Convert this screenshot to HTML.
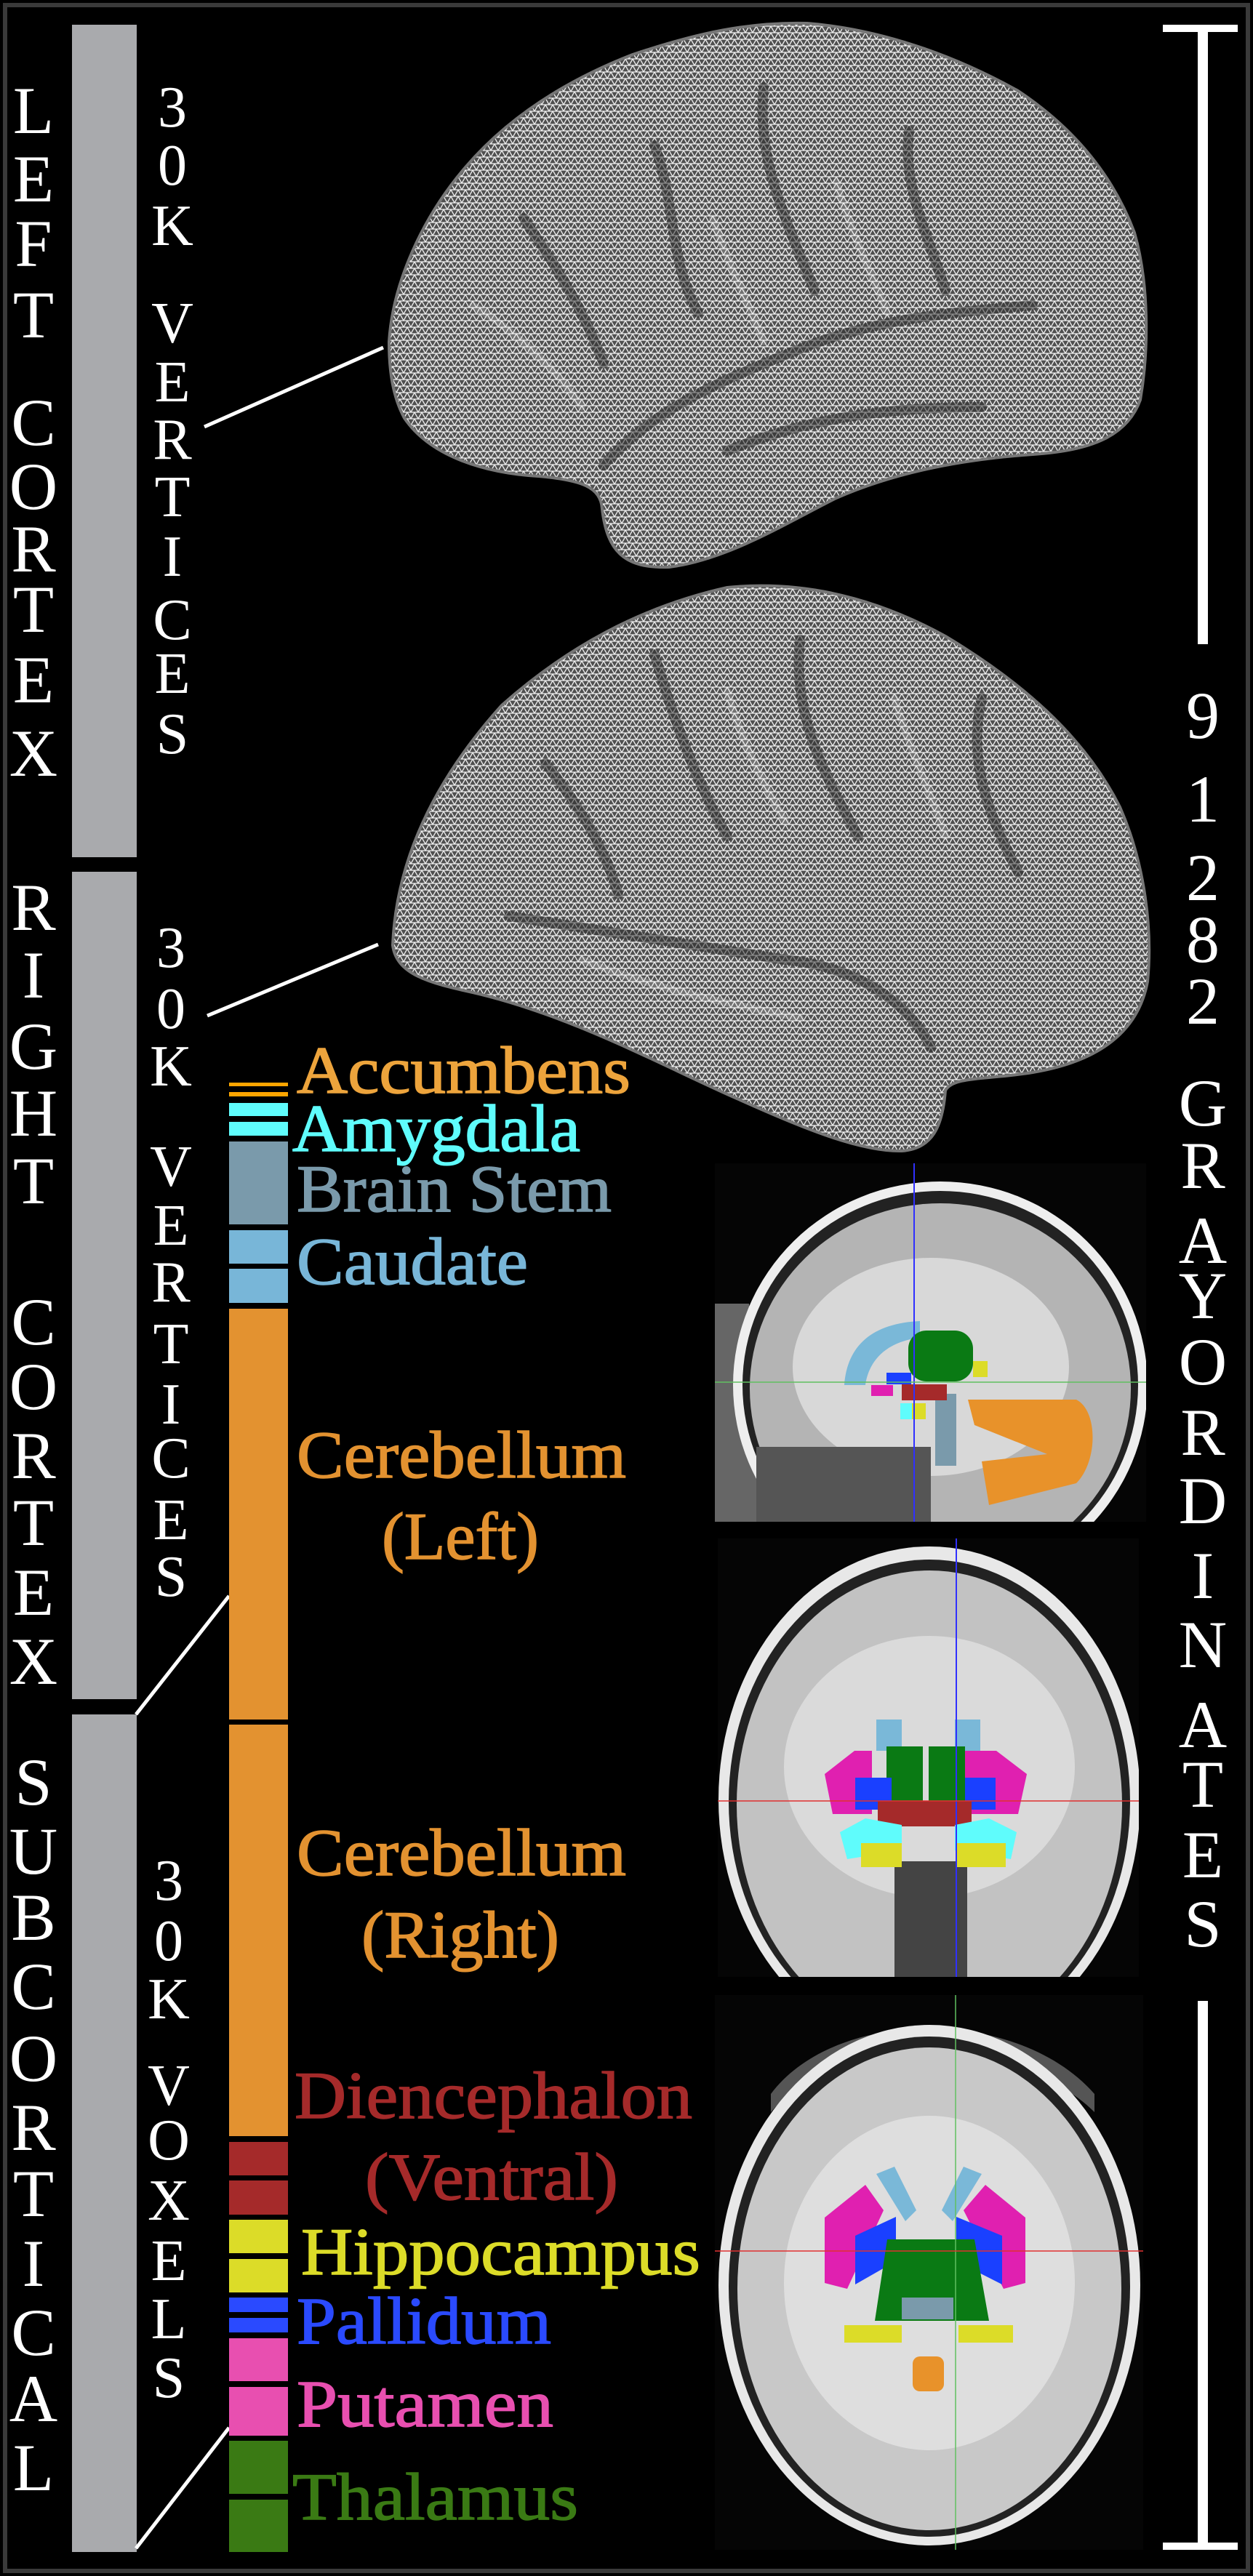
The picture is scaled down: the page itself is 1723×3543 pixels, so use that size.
<!DOCTYPE html>
<html><head><meta charset="utf-8"><style>
html,body{margin:0;padding:0;background:#000;}
svg{display:block;}
text{font-family:"Liberation Serif",serif;}
</style></head><body>
<svg width="1723" height="3543" viewBox="0 0 1723 3543" xmlns="http://www.w3.org/2000/svg">
<defs>
<pattern id="mesh" width="10" height="9" patternUnits="userSpaceOnUse">
<rect width="10" height="9" fill="#505050"/>
<path d="M0 0H10M0 9H10M0 0L5 9L10 0" stroke="#f0f0f0" stroke-width="1.3" fill="none"/>
</pattern>
<clipPath id="c1"><rect x="983" y="1600" width="593" height="493"/></clipPath>
<clipPath id="c2"><rect x="987" y="2116" width="579" height="603"/></clipPath>
<clipPath id="c3"><rect x="983" y="2744" width="589" height="763"/></clipPath>
</defs>
<rect width="1723" height="3543" fill="#000"/>
<rect x="7" y="7" width="1709" height="3529" fill="none" stroke="#3a3a3a" stroke-width="6"/>

<!-- brains -->
<path d="M535 470 C540 390 580 300 640 230 C700 160 780 110 870 75 C960 45 1030 30 1110 32 C1210 40 1310 75 1400 125 C1475 175 1530 240 1560 320 C1580 390 1580 480 1568 550 C1550 600 1500 620 1420 625 C1320 632 1230 650 1150 685 C1080 720 1000 770 920 780 C860 782 835 760 828 700 C826 670 800 660 740 655 C660 650 590 625 556 575 C540 545 535 510 535 470Z" fill="url(#mesh)" stroke="#777" stroke-width="4"/>
<g fill="none" stroke="#2a2a2a" stroke-width="14" stroke-opacity="0.5" stroke-linecap="round">
<path d="M830 640 C900 560 1000 520 1100 480 C1200 440 1300 430 1420 420"/>
<path d="M900 200 C930 280 920 360 960 430"/>
<path d="M1050 120 C1040 220 1080 300 1120 400"/>
<path d="M720 300 C760 360 800 420 830 500"/>
<path d="M1250 180 C1240 260 1280 330 1300 400"/>
<path d="M1000 620 C1100 580 1200 560 1350 560"/>
</g>
<g fill="none" stroke="#fff" stroke-width="10" stroke-opacity="0.2" stroke-linecap="round">
<path d="M980 300 C1000 360 1030 420 1050 470"/><path d="M1150 250 C1170 320 1200 380 1220 430"/><path d="M650 420 C700 450 760 500 800 560"/>
</g>
<path d="M540 1300 C545 1180 600 1070 690 970 C780 890 880 835 1000 808 C1100 798 1200 820 1300 875 C1400 935 1490 1010 1540 1110 C1575 1190 1585 1280 1578 1350 C1565 1420 1510 1460 1420 1475 C1360 1485 1310 1480 1300 1500 C1296 1550 1282 1580 1240 1583 C1180 1584 1100 1550 1000 1505 C900 1460 780 1395 650 1365 C590 1352 545 1340 540 1300Z" fill="url(#mesh)" stroke="#777" stroke-width="4"/>
<g fill="none" stroke="#2a2a2a" stroke-width="14" stroke-opacity="0.5" stroke-linecap="round">
<path d="M700 1260 C820 1280 950 1300 1080 1320 C1180 1330 1250 1380 1280 1440"/>
<path d="M900 900 C930 1000 960 1080 1000 1150"/>
<path d="M1100 880 C1090 980 1130 1060 1180 1150"/>
<path d="M1350 960 C1330 1050 1360 1120 1400 1200"/>
<path d="M750 1050 C790 1100 830 1160 850 1230"/>
</g>
<g fill="none" stroke="#fff" stroke-width="10" stroke-opacity="0.2" stroke-linecap="round">
<path d="M1000 950 C1020 1020 1050 1080 1080 1130"/><path d="M1230 960 C1250 1030 1280 1090 1300 1150"/><path d="M800 1320 C900 1360 1000 1380 1100 1400"/>
</g>

<!-- gray bars -->
<rect x="99" y="34" width="89" height="1145" fill="#a9aaad"/>
<rect x="99" y="1199" width="89" height="1138" fill="#a9aaad"/>
<rect x="99" y="2358" width="89" height="1152" fill="#a9aaad"/>

<!-- left labels -->
<g fill="#fff" font-size="92" text-anchor="middle">
<text x="46" y="183">L</text><text x="46" y="277">E</text><text x="46" y="366">F</text><text x="46" y="464">T</text>
<text x="46" y="612">C</text><text x="46" y="700">O</text><text x="46" y="786">R</text><text x="46" y="869">T</text><text x="46" y="966">E</text><text x="46" y="1067">X</text>
<text x="46" y="1279">R</text><text x="46" y="1372">I</text><text x="46" y="1470">G</text><text x="46" y="1562">H</text><text x="46" y="1655">T</text>
<text x="46" y="1849">C</text><text x="46" y="1938">O</text><text x="46" y="2033">R</text><text x="46" y="2125">T</text><text x="46" y="2221">E</text><text x="46" y="2316">X</text>
<text x="46" y="2482">S</text><text x="46" y="2577">U</text><text x="46" y="2668">B</text><text x="46" y="2763">C</text><text x="46" y="2862">O</text><text x="46" y="2957">R</text><text x="46" y="3048">T</text><text x="46" y="3144">I</text><text x="46" y="3239">C</text><text x="46" y="3330">A</text><text x="46" y="3425">L</text>
</g>
<g fill="#fff" font-size="80" text-anchor="middle">
<text x="237" y="174">3</text><text x="237" y="254">0</text><text x="237" y="337">K</text>
<text x="237" y="471">V</text><text x="237" y="552">E</text><text x="237" y="631">R</text><text x="237" y="710">T</text><text x="237" y="792">I</text><text x="237" y="879">C</text><text x="237" y="953">E</text><text x="237" y="1036">S</text>
<text x="235" y="1330">3</text><text x="235" y="1414">0</text><text x="235" y="1493">K</text>
<text x="235" y="1631">V</text><text x="235" y="1712">E</text><text x="235" y="1790">R</text><text x="235" y="1875">T</text><text x="235" y="1958">I</text><text x="235" y="2032">C</text><text x="235" y="2117">E</text><text x="235" y="2195">S</text>
<text x="232" y="2613">3</text><text x="232" y="2696">0</text><text x="232" y="2776">K</text>
<text x="232" y="2895">V</text><text x="232" y="2970">O</text><text x="232" y="3053">X</text><text x="232" y="3136">E</text><text x="232" y="3216">L</text><text x="232" y="3297">S</text>
</g>

<!-- connectors -->
<g stroke="#fff" stroke-width="5">
<line x1="281" y1="587" x2="527" y2="478"/>
<line x1="285" y1="1397" x2="520" y2="1299"/>
<line x1="315" y1="2195" x2="187" y2="2358"/>
<line x1="315" y1="3339" x2="187" y2="3505"/>
</g>

<!-- colour bars -->
<rect x="315" y="1489" width="81" height="5" fill="#ffa500"/>
<rect x="315" y="1502" width="81" height="6" fill="#ffa500"/>
<rect x="315" y="1517" width="81" height="18" fill="#5ffcfc"/>
<rect x="315" y="1543" width="81" height="19" fill="#5ffcfc"/>
<rect x="315" y="1570" width="81" height="114" fill="#7a9aab"/>
<rect x="315" y="1692" width="81" height="46" fill="#78b6d8"/>
<rect x="315" y="1745" width="81" height="47" fill="#78b6d8"/>
<rect x="315" y="1800" width="81" height="565" fill="#e39230"/>
<rect x="315" y="2372" width="81" height="566" fill="#e39230"/>
<rect x="315" y="2946" width="81" height="46" fill="#a52a2a"/>
<rect x="315" y="2999" width="81" height="47" fill="#a52a2a"/>
<rect x="315" y="3053" width="81" height="46" fill="#dcdc28"/>
<rect x="315" y="3107" width="81" height="46" fill="#dcdc28"/>
<rect x="315" y="3160" width="81" height="20" fill="#2a4aff"/>
<rect x="315" y="3188" width="81" height="20" fill="#2a4aff"/>
<rect x="315" y="3216" width="81" height="59" fill="#e84fb0"/>
<rect x="315" y="3283" width="81" height="67" fill="#e84fb0"/>
<rect x="315" y="3357" width="81" height="73" fill="#3a7a14"/>
<rect x="315" y="3438" width="81" height="72" fill="#3a7a14"/>

<!-- labels -->
<g font-size="92" stroke-width="1.5">
<text x="408" y="1503" fill="#eda43c" stroke="#eda43c" textLength="459" lengthAdjust="spacingAndGlyphs">Accumbens</text>
<text x="402" y="1583" fill="#5ffcfc" stroke="#5ffcfc" textLength="396" lengthAdjust="spacingAndGlyphs">Amygdala</text>
<text x="408" y="1666" fill="#7a9aab" stroke="#7a9aab" textLength="433" lengthAdjust="spacingAndGlyphs">Brain Stem</text>
<text x="408" y="1766" fill="#78b6d8" stroke="#78b6d8" textLength="318" lengthAdjust="spacingAndGlyphs">Caudate</text>
<text x="408" y="2032" fill="#e39230" stroke="#e39230" textLength="453" lengthAdjust="spacingAndGlyphs">Cerebellum</text>
<text x="525" y="2144" fill="#e39230" stroke="#e39230" textLength="216" lengthAdjust="spacingAndGlyphs">(Left)</text>
<text x="408" y="2579" fill="#e39230" stroke="#e39230" textLength="453" lengthAdjust="spacingAndGlyphs">Cerebellum</text>
<text x="497" y="2692" fill="#e39230" stroke="#e39230" textLength="272" lengthAdjust="spacingAndGlyphs">(Right)</text>
<text x="405" y="2913" fill="#a52a2a" stroke="#a52a2a" textLength="547" lengthAdjust="spacingAndGlyphs">Diencephalon</text>
<text x="502" y="3025" fill="#a52a2a" stroke="#a52a2a" textLength="348" lengthAdjust="spacingAndGlyphs">(Ventral)</text>
<text x="414" y="3128" fill="#dcdc28" stroke="#dcdc28" textLength="549" lengthAdjust="spacingAndGlyphs">Hippocampus</text>
<text x="408" y="3223" fill="#2a4aff" stroke="#2a4aff" textLength="350" lengthAdjust="spacingAndGlyphs">Pallidum</text>
<text x="408" y="3337" fill="#e84fb0" stroke="#e84fb0" textLength="353" lengthAdjust="spacingAndGlyphs">Putamen</text>
<text x="402" y="3465" fill="#3a7a14" stroke="#3a7a14" textLength="393" lengthAdjust="spacingAndGlyphs">Thalamus</text>
</g>

<!-- right bracket and text -->
<g fill="#fff">
<rect x="1599" y="34" width="103" height="10"/>
<rect x="1647" y="34" width="14" height="852"/>
<rect x="1647" y="2752" width="14" height="750"/>
<rect x="1599" y="3497" width="103" height="10"/>
</g>
<g fill="#fff" font-size="92" text-anchor="middle">
<text x="1654" y="1015">9</text><text x="1654" y="1130">1</text><text x="1654" y="1238">2</text><text x="1654" y="1323">8</text><text x="1654" y="1408">2</text>
<text x="1654" y="1548">G</text><text x="1654" y="1634">R</text><text x="1654" y="1737">A</text><text x="1654" y="1813">Y</text><text x="1654" y="1904">O</text><text x="1654" y="2001">R</text><text x="1654" y="2095">D</text><text x="1654" y="2198">I</text><text x="1654" y="2293">N</text><text x="1654" y="2403">A</text><text x="1654" y="2485">T</text><text x="1654" y="2582">E</text><text x="1654" y="2677">S</text>
</g>

<!-- MRI sagittal -->
<g clip-path="url(#c1)">
<rect x="983" y="1600" width="593" height="493" fill="#050505"/>
<path d="M983 1793 L1030 1793 L1060 2093 L983 2093Z" fill="#666"/>
<ellipse cx="1293" cy="1905" rx="285" ry="280" fill="#eee"/>
<ellipse cx="1293" cy="1905" rx="272" ry="267" fill="#222"/>
<ellipse cx="1293" cy="1910" rx="262" ry="255" fill="#b4b4b4"/>
<ellipse cx="1280" cy="1880" rx="190" ry="150" fill="#d8d8d8"/>
<rect x="1040" y="1990" width="240" height="103" fill="#555"/>
<path d="M1161 1905 C1165 1850 1200 1820 1265 1817 L1265 1840 C1220 1845 1195 1870 1190 1905Z" fill="#7ab8d8"/>
<rect x="1249" y="1830" width="89" height="70" rx="25" fill="#0a7a14"/>
<path d="M1331 1925 L1480 1925 C1510 1940 1510 2010 1480 2040 L1360 2070 L1350 2010 L1440 2000 L1340 1960Z" fill="#e8922a"/>
<rect x="1286" y="1917" width="29" height="99" fill="#7a9aab"/>
<rect x="1240" y="1904" width="62" height="22" fill="#a52a2a"/>
<rect x="1219" y="1888" width="34" height="16" fill="#1a40ff"/>
<rect x="1198" y="1905" width="30" height="15" fill="#e020b0"/>
<rect x="1253" y="1930" width="20" height="22" fill="#dcdc28"/>
<rect x="1238" y="1930" width="16" height="22" fill="#5ffcfc"/>
<rect x="1338" y="1872" width="20" height="22" fill="#dcdc28"/>
<line x1="1257" y1="1600" x2="1257" y2="2093" stroke="#3030ff" stroke-width="2"/>
<line x1="983" y1="1901" x2="1576" y2="1901" stroke="#60c060" stroke-width="1.5"/>
</g>

<!-- MRI coronal -->
<g clip-path="url(#c2)">
<rect x="987" y="2116" width="579" height="603" fill="#050505"/>
<ellipse cx="1278" cy="2475" rx="290" ry="348" fill="#e8e8e8"/>
<ellipse cx="1278" cy="2478" rx="276" ry="333" fill="#222"/>
<ellipse cx="1278" cy="2482" rx="265" ry="322" fill="#c2c2c2"/>
<ellipse cx="1278" cy="2430" rx="200" ry="180" fill="#dadada"/>
<rect x="1230" y="2560" width="100" height="160" fill="#444"/>
<rect x="1205" y="2365" width="35" height="43" fill="#7ab8d8"/>
<rect x="1313" y="2365" width="35" height="43" fill="#7ab8d8"/>
<rect x="1219" y="2402" width="50" height="75" fill="#0a7a14"/>
<rect x="1277" y="2402" width="50" height="75" fill="#0a7a14"/>
<path d="M1134 2440 L1175 2408 L1199 2408 L1199 2495 L1145 2495Z" fill="#e020b0"/>
<path d="M1412 2440 L1370 2408 L1327 2408 L1327 2495 L1400 2495Z" fill="#e020b0"/>
<rect x="1176" y="2445" width="50" height="44" fill="#1a40ff"/>
<rect x="1327" y="2445" width="42" height="44" fill="#1a40ff"/>
<rect x="1207" y="2477" width="129" height="35" fill="#a52a2a"/>
<path d="M1155 2520 L1190 2501 L1240 2510 L1240 2545 L1165 2557Z" fill="#5ffcfc"/>
<path d="M1398 2520 L1360 2501 L1313 2510 L1313 2545 L1390 2557Z" fill="#5ffcfc"/>
<rect x="1184" y="2535" width="56" height="33" fill="#dcdc28"/>
<rect x="1315" y="2535" width="68" height="33" fill="#dcdc28"/>
<line x1="1315" y1="2116" x2="1315" y2="2719" stroke="#3030ff" stroke-width="2"/>
<line x1="987" y1="2477" x2="1566" y2="2477" stroke="#e03030" stroke-width="1.5"/>
</g>

<!-- MRI axial -->
<g clip-path="url(#c3)">
<rect x="983" y="2744" width="589" height="763" fill="#050505"/>
<path d="M1060 2880 C1150 2760 1400 2760 1505 2880 L1505 2905 C1400 2800 1150 2800 1060 2905Z" fill="#555"/>
<ellipse cx="1278" cy="3143" rx="290" ry="358" fill="#e8e8e8"/>
<ellipse cx="1278" cy="3145" rx="276" ry="344" fill="#222"/>
<ellipse cx="1278" cy="3148" rx="264" ry="332" fill="#c8c8c8"/>
<ellipse cx="1278" cy="3140" rx="200" ry="230" fill="#dedede"/>
<path d="M1205 2990 L1230 2980 L1260 3040 L1245 3055Z" fill="#7ab8d8"/>
<path d="M1350 2990 L1325 2980 L1295 3040 L1310 3055Z" fill="#7ab8d8"/>
<path d="M1134 3050 L1190 3005 L1215 3040 L1165 3148 L1134 3140Z" fill="#e020b0"/>
<path d="M1410 3050 L1355 3005 L1325 3040 L1380 3148 L1410 3140Z" fill="#e020b0"/>
<path d="M1176 3075 L1232 3049 L1232 3110 L1176 3142Z" fill="#1a40ff"/>
<path d="M1378 3075 L1315 3049 L1315 3110 L1378 3142Z" fill="#1a40ff"/>
<path d="M1220 3080 L1340 3080 L1360 3192 L1203 3192Z" fill="#0a7a14"/>
<rect x="1240" y="3160" width="71" height="30" fill="#7a9aab"/>
<rect x="1161" y="3198" width="79" height="24" fill="#dcdc28"/>
<rect x="1318" y="3198" width="75" height="24" fill="#dcdc28"/>
<rect x="1255" y="3241" width="43" height="48" rx="10" fill="#e8922a"/>
<line x1="1314" y1="2744" x2="1314" y2="3507" stroke="#60c060" stroke-width="1.5"/>
<line x1="983" y1="3096" x2="1572" y2="3096" stroke="#e03030" stroke-width="1.5"/>
</g>
</svg>
</body></html>
